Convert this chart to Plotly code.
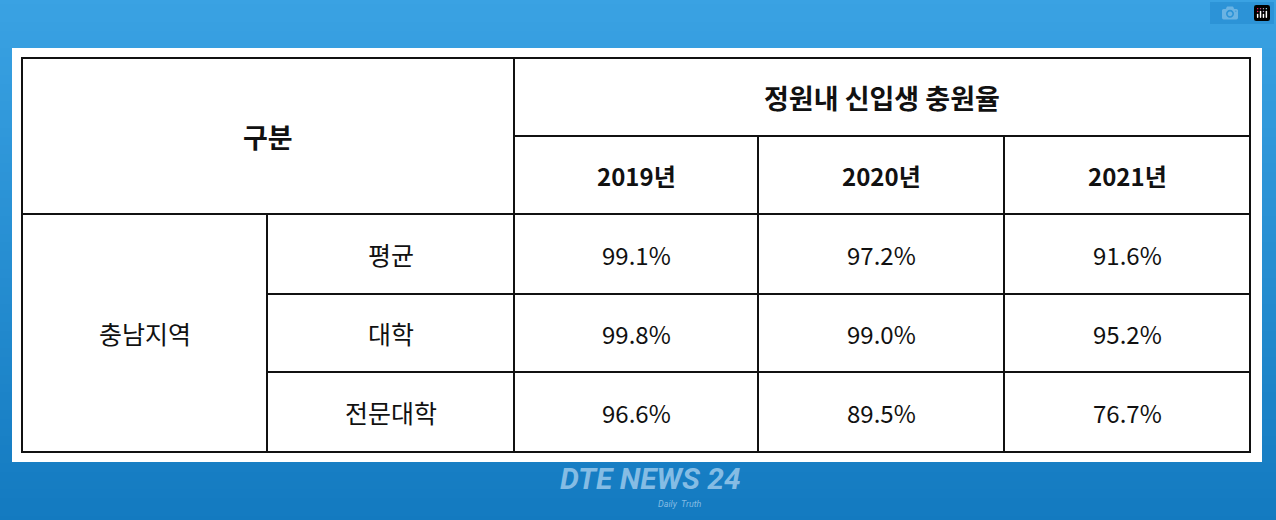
import plotly.graph_objects as go
import numpy as np

# 표 데이터
years = ['2019년', '2020년', '2021년']
region = '충남지역'
groups = ['평균', '대학', '전문대학']
rate_2019 = ['99.1%', '99.8%', '96.6%']
rate_2020 = ['97.2%', '99.0%', '89.5%']
rate_2021 = ['91.6%', '95.2%', '76.7%']

# 표 격자 (픽셀)
col_edges = [22, 267, 514, 758, 1004, 1250]
row_edges = [58, 136, 214, 294, 372, 452]

W, H = 1276, 520
font = 'Noto Sans CJK KR'

# 배경 그라데이션
grad = np.linspace(0, 1, 60).reshape(-1, 1) * np.ones((1, 2))
fig = go.Figure(go.Heatmap(
    z=grad, x=[0, W], y=np.linspace(0, H, 60),
    colorscale=[[0, '#3aa2e3'], [1, '#137ac0']],
    showscale=False, hoverinfo='skip'
))

shapes = [dict(type='rect', x0=12, x1=1262, y0=48, y1=462,
               fillcolor='white', line_width=0)]
ln = dict(color='#111', width=2)
# 바깥 테두리
shapes.append(dict(type='rect', x0=col_edges[0], x1=col_edges[-1],
                   y0=row_edges[0], y1=row_edges[-1], line=ln))
# 가로선
shapes.append(dict(type='line', x0=col_edges[2], x1=col_edges[-1], y0=row_edges[1], y1=row_edges[1], line=ln))
shapes.append(dict(type='line', x0=col_edges[0], x1=col_edges[-1], y0=row_edges[2], y1=row_edges[2], line=ln))
for r in row_edges[3:5]:
    shapes.append(dict(type='line', x0=col_edges[1], x1=col_edges[-1], y0=r, y1=r, line=ln))
# 세로선
shapes.append(dict(type='line', x0=col_edges[1], x1=col_edges[1], y0=row_edges[2], y1=row_edges[-1], line=ln))
shapes.append(dict(type='line', x0=col_edges[2], x1=col_edges[2], y0=row_edges[0], y1=row_edges[-1], line=ln))
for c in col_edges[3:5]:
    shapes.append(dict(type='line', x0=c, x1=c, y0=row_edges[1], y1=row_edges[-1], line=ln))

def mid(a, i, j):
    return (a[i] + a[j]) / 2

ann = []
def txt(x, y, s, size=24, bold=False):
    ann.append(dict(x=x, y=y, text=f'<b>{s}</b>' if bold else s, showarrow=False,
                    font=dict(family=font, size=size, color='#111'),
                    xanchor='center', yanchor='middle'))

txt(mid(col_edges, 0, 2), mid(row_edges, 0, 2), '구분', 27, True)
txt(mid(col_edges, 2, 5), mid(row_edges, 0, 1), '정원내 신입생 충원율', 27, True)
for i, y in enumerate(years):
    txt(mid(col_edges, 2 + i, 3 + i), mid(row_edges, 1, 2), y, 24, True)
txt(mid(col_edges, 0, 1), mid(row_edges, 2, 5), region, 25)
for r, g in enumerate(groups):
    yc = mid(row_edges, 2 + r, 3 + r)
    txt(mid(col_edges, 1, 2), yc, g, 25)
    for c, vals in enumerate([rate_2019, rate_2020, rate_2021]):
        txt(mid(col_edges, 2 + c, 3 + c), yc, vals[r], 24)

# 워터마크
ann.append(dict(x=650, y=478, text='<b><i>DTE NEWS 24</i></b>', showarrow=False,
                font=dict(family='Roboto', size=30, color='rgba(170,210,240,0.75)')))
ann.append(dict(x=680, y=504, text='<i>Daily  Truth</i>', showarrow=False,
                font=dict(family='Roboto', size=9, color='rgba(170,210,240,0.75)')))

fig.update_layout(
    width=W, height=H, margin=dict(l=0, r=0, t=0, b=0),
    xaxis=dict(range=[0, W], visible=False, fixedrange=True),
    yaxis=dict(range=[H, 0], visible=False, fixedrange=True),
    shapes=shapes, annotations=ann,
    paper_bgcolor='#1f86cc', plot_bgcolor='#1f86cc'
)

fig.write_html("out.html", post_script="document.body.style.margin='0';")
